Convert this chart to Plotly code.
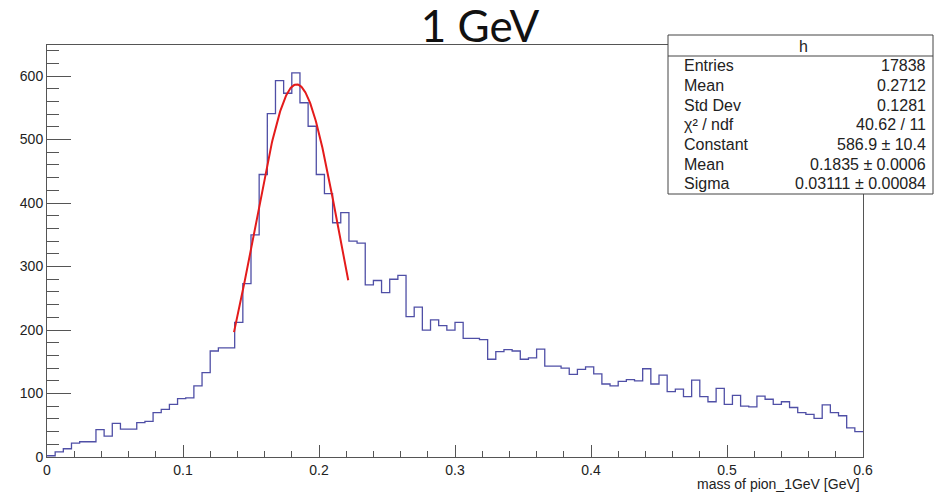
import numpy as np
import plotly.graph_objects as go

# Histogram "h": pion invariant mass, 100 bins over [0, 0.6] GeV
x_low, x_high = 0.0, 0.6
counts = [
    2, 8, 13, 22, 24, 24, 43, 33, 53, 44,
    44, 54, 56, 70, 75, 83, 92, 93, 112, 133,
    167, 172, 172, 212, 273, 350, 445, 541, 593, 573,
    605, 558, 521, 445, 415, 369, 385, 340, 337, 271,
    278, 259, 280, 286, 221, 236, 200, 216, 207, 200,
    212, 187, 187, 185, 154, 166, 169, 167, 154, 156,
    170, 143, 143, 140, 130, 138, 142, 131, 115, 112,
    119, 122, 120, 139, 115, 129, 103, 107, 95, 121,
    95, 87, 108, 83, 97, 80, 79, 96, 91, 83,
    87, 78, 70, 67, 61, 82, 70, 65, 46, 40,
]

# Gaussian fit result and its range
fit_const, fit_mean, fit_sigma = 586.9, 0.1835, 0.03111
fit_lo, fit_hi = 0.1375, 0.2215

# Statistics box contents
stat_title = "h"
stat_names = ["Entries", "Mean", "Std Dev", "χ² / ndf",
              "Constant", "Mean", "Sigma"]
stat_values = ["17838", "0.2712", "0.1281", "40.62 / 11",
               "586.9 ± 10.4", "0.1835 ± 0.0006", "0.03111 ± 0.00084"]

x_ticks = [0, 0.1, 0.2, 0.3, 0.4, 0.5, 0.6]
x_tick_text = ["0", "0.1", "0.2", "0.3", "0.4", "0.5", "0.6"]
y_ticks = [0, 100, 200, 300, 400, 500, 600]

W, H = 935, 497
L, R, T, B = 47, 72, 45, 40
plot_w = W - L - R
plot_h = H - T - B


def px(xp):
    return (xp - L) / plot_w


def py(yp):
    return (H - B - yp) / plot_h


edges = np.linspace(x_low, x_high, len(counts) + 1)
step_y = list(counts) + [counts[-1]]

fx = np.linspace(fit_lo, fit_hi, 200)
fy = fit_const * np.exp(-0.5 * ((fx - fit_mean) / fit_sigma) ** 2)

axis_col = "#555555"
font_main = "Liberation Sans, Arial, sans-serif"

fig = go.Figure()
fig.add_trace(go.Scatter(
    x=edges, y=step_y, mode="lines", line_shape="hv",
    line=dict(color="#4f4fa6", width=1.3), hoverinfo="skip", showlegend=False,
))
fig.add_trace(go.Scatter(
    x=fx, y=fy, mode="lines",
    line=dict(color="#e41b1b", width=2), hoverinfo="skip", showlegend=False,
))

shapes = [
    dict(type="rect", xref="paper", yref="paper",
         x0=px(668), x1=px(933), y0=py(194), y1=py(35),
         line=dict(color="#444444", width=1), fillcolor="white", layer="above"),
    dict(type="line", xref="paper", yref="paper",
         x0=px(668), x1=px(933), y0=py(56), y1=py(56),
         line=dict(color="#444444", width=1), layer="above"),
]

annotations = [
    dict(text=stat_title, xref="paper", yref="paper", x=px(803), y=py(46),
         xanchor="center", yanchor="middle", showarrow=False,
         font=dict(family=font_main, size=16, color="#222")),
    dict(text="mass of pion_1GeV [GeV]", xref="paper", yref="paper",
         x=px(862), y=py(484), xanchor="right", yanchor="middle",
         showarrow=False, font=dict(family=font_main, size=14, color="#222")),
]
row0, row_step = 66, 19.6
for i, (name, val) in enumerate(zip(stat_names, stat_values)):
    yy = py(row0 + i * row_step)
    annotations.append(dict(text=name, xref="paper", yref="paper", x=px(682), y=yy,
                            xanchor="left", yanchor="middle", showarrow=False,
                            font=dict(family=font_main, size=16, color="#222")))
    annotations.append(dict(text=val, xref="paper", yref="paper", x=px(928), y=yy,
                            xanchor="right", yanchor="middle", showarrow=False,
                            font=dict(family=font_main, size=16, color="#222")))

fig.update_layout(
    width=W, height=H,
    margin=dict(l=L, r=R, t=T, b=B),
    paper_bgcolor="white", plot_bgcolor="white",
    title=dict(text="1 GeV", xref="paper", x=px(480), xanchor="center",
               yref="container", y=1 - 27 / H, yanchor="middle",
               font=dict(family="Lato, Open Sans, sans-serif", size=44, color="#111")),
    xaxis=dict(range=[x_low, x_high], tickvals=x_ticks, ticktext=x_tick_text,
               ticks="inside", ticklen=12, tickcolor=axis_col, tickwidth=1,
               showline=True, linecolor=axis_col, linewidth=1, mirror=True,
               showgrid=False, zeroline=False,
               tickfont=dict(family=font_main, size=14, color="#222"),
               minor=dict(dtick=0.02, tick0=0, ticks="inside", ticklen=6,
                          tickcolor=axis_col, showgrid=False)),
    yaxis=dict(range=[0, 649], tickvals=y_ticks,
               ticks="inside", ticklen=24, tickcolor=axis_col, tickwidth=1,
               showline=True, linecolor=axis_col, linewidth=1, mirror=True,
               showgrid=False, zeroline=False,
               tickfont=dict(family=font_main, size=14, color="#222"),
               minor=dict(dtick=20, tick0=0, ticks="inside", ticklen=12,
                          tickcolor=axis_col, showgrid=False)),
    shapes=shapes, annotations=annotations,
)

fig.write_html("out.html")
